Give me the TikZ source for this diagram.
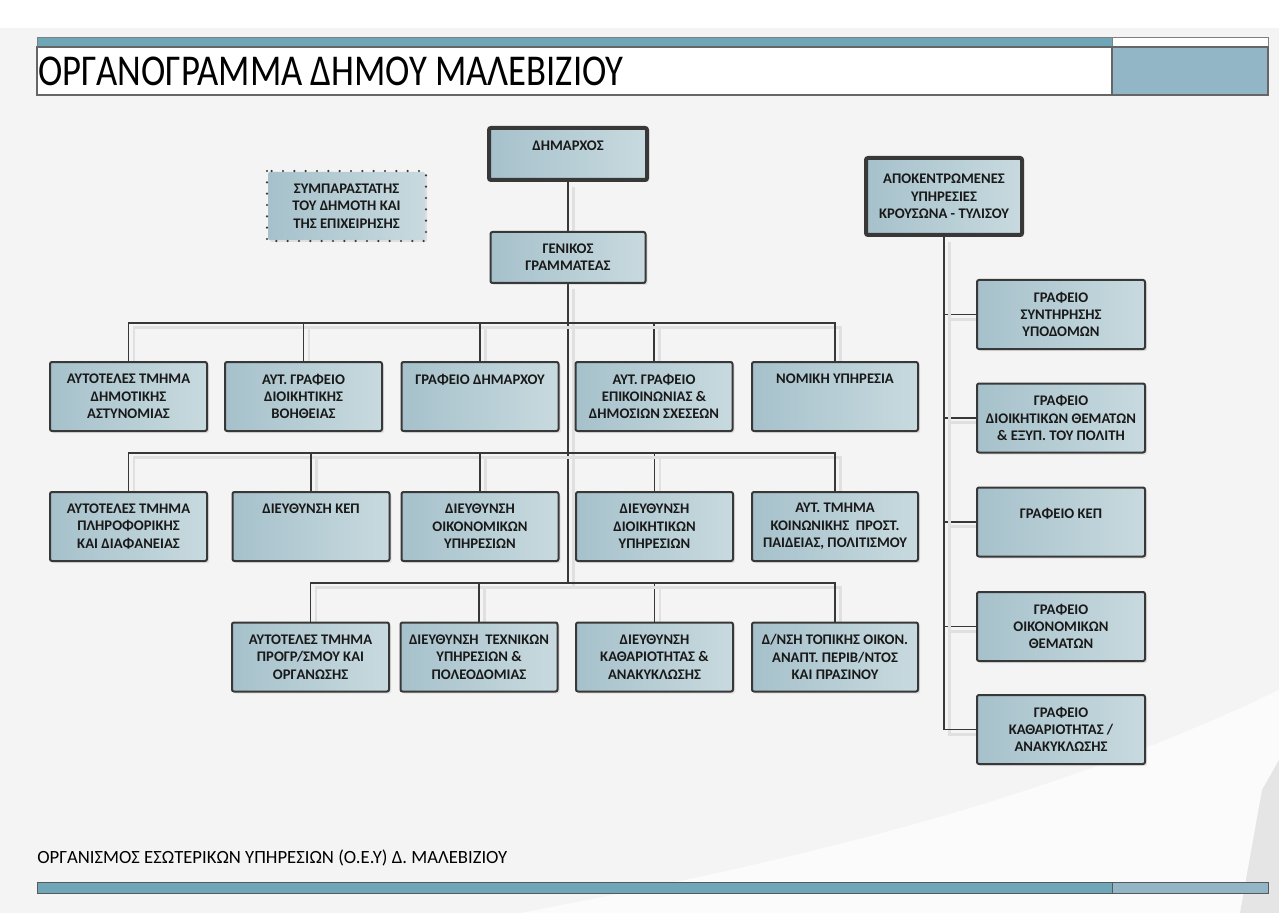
\documentclass[tikz,border=0pt]{standalone}
\usepackage{fontspec}
\setmainfont{Carlito}
\usetikzlibrary{shadows,backgrounds}
\definecolor{boxdark}{HTML}{A6C1CB}
\definecolor{boxlight}{HTML}{C8DADF}
\definecolor{barteal}{HTML}{6FA7B8}
\definecolor{barlight}{HTML}{92B6C5}
\definecolor{linegray}{HTML}{383838}
\definecolor{pagegray}{HTML}{F4F4F4}

\begin{document}
\begin{tikzpicture}[x=0.75pt,y=-0.75pt,
    box/.style={draw=linegray, line width=1.5pt, rounded corners=1.5pt,
      left color=boxdark, right color=boxlight,
      drop shadow={shadow xshift=1.5pt,shadow yshift=-1.5pt,opacity=.18},
      align=center, inner xsep=1pt, inner ysep=2pt, text=black!90,
      font=\fontsize{11}{13}\selectfont\bfseries,
      minimum width=117.75pt, minimum height=51.75pt},
    chief/.style={box, line width=3pt},
    conn/.style={draw=linegray, line width=1.2pt,
      preaction={draw=black!12, line width=2pt,
        transform canvas={xshift=4pt,yshift=-3.5pt}}}]
  \useasboundingbox (0,0) rectangle (1279,913);

  % header
  \filldraw[fill=barteal, draw=gray] (37,37) rectangle (1112,47);
  \draw[gray, fill=white] (1112,37) rectangle (1268,47);
  \filldraw[fill=white, draw=gray!80!black, line width=1pt] (37,47) rectangle (1268,95);
  \filldraw[fill=barlight, draw=gray!80!black, line width=1pt] (1112,47) rectangle (1268,95);
  \node[anchor=west, inner sep=0pt, font=\fontsize{27.5}{30}\selectfont] (title)
    at (38,71) {\scalebox{1}[1.2]{ΟΡΓΑΝΟΓΡΑΜΜΑ ΔΗΜΟΥ ΜΑΛΕΒΙΖΙΟΥ}};

  % top
  \node[chief, minimum width=118.5pt, minimum height=39pt] (mayor) at (568,154) {ΔΗΜΑΡΧΟΣ\\~};
  \node[box, minimum width=116.25pt, minimum height=38.25pt] (gen) at (568,257.5) {ΓΕΝΙΚΟΣ\\ΓΡΑΜΜΑΤΕΑΣ};
  \node[box, draw=none, minimum height=51pt] (ombud) at (346.5,206)
    {ΣΥΜΠΑΡΑΣΤΑΤΗΣ\\ΤΟΥ ΔΗΜΟΤΗ ΚΑΙ\\ΤΗΣ ΕΠΙΧΕΙΡΗΣΗΣ};
  \draw[linegray, line width=1.8pt, line cap=round, dash pattern=on 0pt off 8.5pt]
    (ombud.north west) rectangle (ombud.south east);
  \node[chief, minimum width=117pt, minimum height=57.75pt] (apok) at (944,196.5)
    {ΑΠΟΚΕΝΤΡΩΜΕΝΕΣ\\ΥΠΗΡΕΣΙΕΣ\\ΚΡΟΥΣΩΝΑ - ΤΥΛΙΣΟΥ};

  % row 1
  \node[box] (r1a) at (128.5,396.5) {ΑΥΤΟΤΕΛΕΣ ΤΜΗΜΑ\\ΔΗΜΟΤΙΚΗΣ\\ΑΣΤΥΝΟΜΙΑΣ};
  \node[box] (r1b) at (303.5,396.5) {ΑΥΤ. ΓΡΑΦΕΙΟ\\ΔΙΟΙΚΗΤΙΚΗΣ\\ΒΟΗΘΕΙΑΣ};
  \node[box] (r1c) at (480,396.5) {ΓΡΑΦΕΙΟ ΔΗΜΑΡΧΟΥ\\~\\~};
  \node[box] (r1d) at (654,396.5) {ΑΥΤ. ΓΡΑΦΕΙΟ\\ΕΠΙΚΟΙΝΩΝΙΑΣ \&\\ΔΗΜΟΣΙΩΝ ΣΧΕΣΕΩΝ};
  \node[box, minimum width=124.5pt] (r1e) at (835,396.5) {ΝΟΜΙΚΗ ΥΠΗΡΕΣΙΑ\\~\\~};

  % row 2
  \node[box] (r2a) at (128.5,526.5) {ΑΥΤΟΤΕΛΕΣ ΤΜΗΜΑ\\ΠΛΗΡΟΦΟΡΙΚΗΣ\\ΚΑΙ ΔΙΑΦΑΝΕΙΑΣ};
  \node[box] (r2b) at (311,526.5) {ΔΙΕΥΘΥΝΣΗ ΚΕΠ\\~\\~};
  \node[box] (r2c) at (480,526.5) {ΔΙΕΥΘΥΝΣΗ\\ΟΙΚΟΝΟΜΙΚΩΝ\\ΥΠΗΡΕΣΙΩΝ};
  \node[box] (r2d) at (654.5,526.5) {ΔΙΕΥΘΥΝΣΗ\\ΔΙΟΙΚΗΤΙΚΩΝ\\ΥΠΗΡΕΣΙΩΝ};
  \node[box, minimum width=124.5pt] (r2e) at (835,526.5) {ΑΥΤ. ΤΜΗΜΑ\\ΚΟΙΝΩΝΙΚΗΣ \ ΠΡΟΣΤ.\\ΠΑΙΔΕΙΑΣ, ΠΟΛΙΤΙΣΜΟΥ};

  % row 3
  \node[box] (r3a) at (310.5,657) {ΑΥΤΟΤΕΛΕΣ ΤΜΗΜΑ\\ΠΡΟΓΡ/ΣΜΟΥ ΚΑΙ\\ΟΡΓΑΝΩΣΗΣ};
  \node[box] (r3b) at (479,657) {ΔΙΕΥΘΥΝΣΗ \ ΤΕΧΝΙΚΩΝ\\ΥΠΗΡΕΣΙΩΝ \&\\ΠΟΛΕΟΔΟΜΙΑΣ};
  \node[box] (r3c) at (654.5,657) {ΔΙΕΥΘΥΝΣΗ\\ΚΑΘΑΡΙΟΤΗΤΑΣ \&\\ΑΝΑΚΥΚΛΩΣΗΣ};
  \node[box, minimum width=124.5pt] (r3d) at (835,657) {Δ/ΝΣΗ ΤΟΠΙΚΗΣ ΟΙΚΟΝ.\\ΑΝΑΠΤ. ΠΕΡΙΒ/ΝΤΟΣ\\ΚΑΙ ΠΡΑΣΙΝΟΥ};

  % right column
  \node[box, minimum width=126pt] (g1) at (1061,314.5) {ΓΡΑΦΕΙΟ\\ΣΥΝΤΗΡΗΣΗΣ\\ΥΠΟΔΟΜΩΝ};
  \node[box, minimum width=126pt] (g2) at (1061,418) {ΓΡΑΦΕΙΟ\\ΔΙΟΙΚΗΤΙΚΩΝ ΘΕΜΑΤΩΝ\\\& ΕΞΥΠ. ΤΟΥ ΠΟΛΙΤΗ};
  \node[box, minimum width=126pt] (g3) at (1061,522) {ΓΡΑΦΕΙΟ ΚΕΠ\\~};
  \node[box, minimum width=126pt] (g4) at (1061,626.5) {ΓΡΑΦΕΙΟ\\ΟΙΚΟΝΟΜΙΚΩΝ\\ΘΕΜΑΤΩΝ};
  \node[box, minimum width=126pt] (g5) at (1061,729.5) {ΓΡΑΦΕΙΟ\\ΚΑΘΑΡΙΟΤΗΤΑΣ /\\ΑΝΑΚΥΚΛΩΣΗΣ};

  % footer
  \node[anchor=west, inner sep=0pt, font=\fontsize{14}{16}\selectfont] (foot)
    at (37,858) {ΟΡΓΑΝΙΣΜΟΣ ΕΣΩΤΕΡΙΚΩΝ ΥΠΗΡΕΣΙΩΝ (Ο.Ε.Υ) Δ. ΜΑΛΕΒΙΖΙΟΥ};
  \filldraw[fill=barteal, draw=gray!70!black] (37,882) rectangle (1112,893);
  \filldraw[fill=barlight, draw=gray!70!black] (1112,882) rectangle (1268,893);

  \begin{scope}[on background layer]
    \fill[pagegray] (0,0) rectangle (1279,913);
    \fill[white] (0,0) rectangle (1279,28);
    \fill[white!60!pagegray] (520,913) .. controls (800,860) and (1050,800) .. (1279,690) -- (1279,913) -- cycle;
    \fill[black!10] (1240,913) -- (1262,790) -- (1279,760) -- (1279,913) -- cycle;
    \coordinate (b1) at (568,323);
    \coordinate (b2) at (568,453);
    \coordinate (b3) at (568,583);
    \draw[conn] (mayor) -- (gen);
    \draw[conn] (gen.south) -- (b3);
    \foreach \n in {r1a,r1b,r1c,r1d,r1e} \draw[conn] (\n.north) |- (b1);
    \foreach \n in {r2a,r2b,r2c,r2d,r2e} \draw[conn] (\n.north) |- (b2);
    \foreach \n in {r3a,r3b,r3c,r3d} \draw[conn] (\n.north) |- (b3);
    \foreach \n in {g1,g2,g3,g4,g5} \draw[conn] (apok.south) |- (\n.west);
  \end{scope}
\end{tikzpicture}
\end{document}
